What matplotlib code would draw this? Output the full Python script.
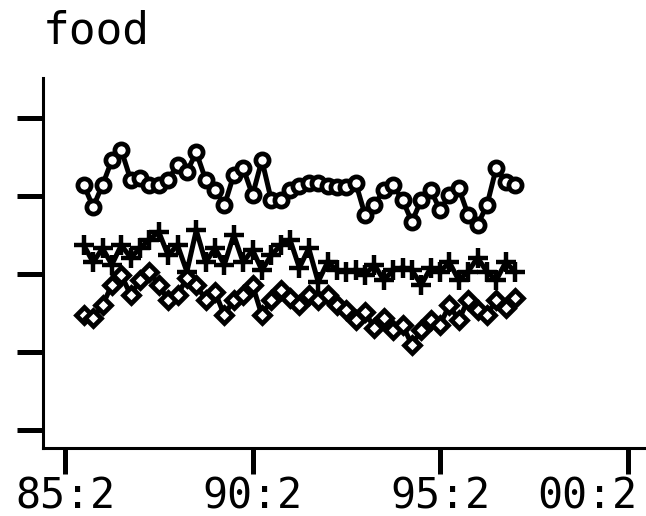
import matplotlib
matplotlib.use("Agg")
import matplotlib.pyplot as plt
import matplotlib.transforms as mtransforms
import numpy as np

title = "food"
start_year = 1985.75          # first observation, quarterly
tick_years = [1985.25, 1990.25, 1995.25, 2000.25]
tick_labels = ["85:2", "90:2", "95:2", "00:2"]
ytick_vals = [0, 1, 2, 3, 4]

series_circle = [3.14, 2.86, 3.14, 3.46, 3.59, 3.21, 3.23, 3.14, 3.14, 3.21, 3.40, 3.31,
                 3.56, 3.21, 3.08, 2.88, 3.27, 3.36, 3.01, 3.46, 2.95, 2.95, 3.08, 3.13,
                 3.17, 3.17, 3.13, 3.12, 3.12, 3.17, 2.76, 2.88, 3.08, 3.14, 2.95, 2.67,
                 2.95, 3.08, 2.82, 3.01, 3.10, 2.76, 2.63, 2.88, 3.36, 3.18, 3.14]
series_plus = [2.37, 2.15, 2.33, 2.12, 2.37, 2.21, 2.33, 2.44, 2.54, 2.24, 2.37, 2.03,
               2.56, 2.15, 2.33, 2.12, 2.50, 2.15, 2.31, 2.05, 2.24, 2.37, 2.44, 2.08,
               2.33, 1.90, 2.15, 2.05, 2.03, 2.05, 1.99, 2.12, 1.92, 2.05, 2.08, 2.05,
               1.86, 2.08, 2.03, 2.15, 1.92, 2.03, 2.21, 2.03, 1.92, 2.15, 2.03]
series_diamond = [1.47, 1.44, 1.60, 1.86, 1.99, 1.73, 1.92, 2.03, 1.86, 1.67, 1.73, 1.95,
                  1.86, 1.67, 1.77, 1.47, 1.67, 1.73, 1.86, 1.47, 1.67, 1.79, 1.69, 1.60,
                  1.73, 1.67, 1.73, 1.60, 1.54, 1.41, 1.51, 1.31, 1.44, 1.28, 1.35, 1.09,
                  1.28, 1.41, 1.35, 1.60, 1.41, 1.67, 1.54, 1.47, 1.67, 1.56, 1.69]

W, H = 646, 516
fig = plt.figure(figsize=(W / 100, H / 100), dpi=100)
ax = fig.add_axes([43 / W, (H - 448) / H, (W - 43) / W, (448 - 78) / H])

t = start_year + 0.25 * np.arange(len(series_circle))

ax.plot(t, series_circle, color="black", lw=3.6, marker="o", ms=9.5, mfc="white",
        mec="black", mew=3.4, solid_joinstyle="round")
ax.plot(t, series_plus, color="black", lw=3.6, marker="+", ms=14, mew=3.2)
ax.plot(t, series_diamond, color="black", lw=3.6, marker="D", ms=8.5, mfc="white",
        mec="black", mew=3.4, solid_joinstyle="round")

ax.set_xlim(1984.663, 2000.743)
ax.set_ylim(-0.231, 4.513)

for s in ("top", "right"):
    ax.spines[s].set_visible(False)
ax.spines["left"].set_linewidth(2.2)
ax.spines["bottom"].set_linewidth(2.2)

ax.set_yticks(ytick_vals)
ax.set_yticklabels([])
ax.tick_params(axis="y", direction="out", length=18.5, width=3.6, color="black")
ax.set_xticks(tick_years)
ax.set_xticklabels(tick_labels, fontsize=30, family="DejaVu Sans Mono")
ax.tick_params(axis="x", direction="out", length=18.5, width=3.6, pad=1, color="black")

labels = ax.get_xticklabels()
last = labels[-1]
last.set_horizontalalignment("right")
last.set_transform(last.get_transform() + mtransforms.ScaledTranslation(10 / 100, 0, fig.dpi_scale_trans))

fig.text(43 / W, 1 - 43 / H, title, fontsize=32, family="DejaVu Sans Mono", va="baseline", ha="left")

fig.savefig("out.png", dpi=100)
